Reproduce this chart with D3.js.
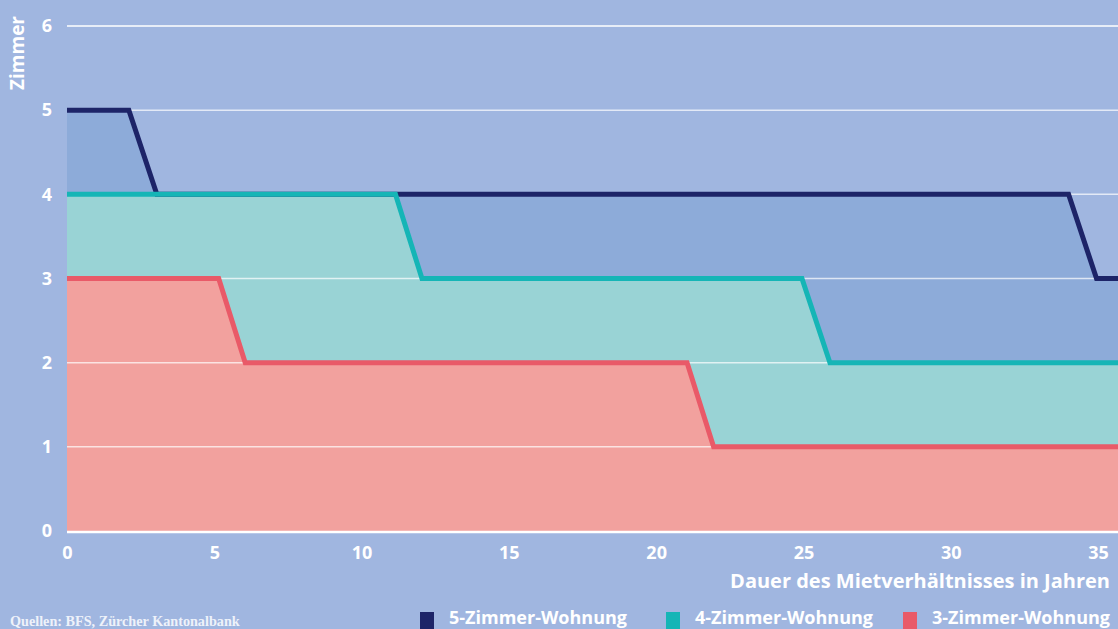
<!DOCTYPE html>
<html>
<head>
<meta charset="utf-8">
<script src="https://cdn.jsdelivr.net/npm/d3@7"></script>
<style>
  body { margin: 0; background: #a0b6e0; }
  svg { display: block; }
</style>
</head>
<body>
<svg id="chart" width="1118" height="629"></svg>
<script>
// Data: years of tenancy vs. rooms occupied
const years5 = [0, 2.1, 3.05, 34, 34.95, 35.7];
const rooms5 = [5, 5, 4, 4, 3, 3];
const years4 = [0, 11.15, 12.05, 24.95, 25.9, 35.7];
const rooms4 = [4, 4, 3, 3, 2, 2];
const years3 = [0, 5.15, 6.05, 21.05, 21.95, 35.7];
const rooms3 = [3, 3, 2, 2, 1, 1];

const seriesNames = ["5-Zimmer-Wohnung", "4-Zimmer-Wohnung", "3-Zimmer-Wohnung"];
const xTicks = [0, 5, 10, 15, 20, 25, 30, 35];
const yTicks = [0, 1, 2, 3, 4, 5, 6];

const lineColors = ["#1d2468", "#15b5b6", "#e95a68"];
const fillColors = ["#8dabd9", "#99d3d5", "#f2a19e"];

const sans = "Open Sans, sans-serif";
const svg = d3.select("#chart");
const width = 1118, height = 629;

let x = d3.scaleLinear().domain([0, 35]).range([67, 1098]);
let y = d3.scaleLinear().domain([0, 6]).range([531, 26]);

let series = [
    d3.zip(years5, rooms5),
    d3.zip(years4, rooms4),
    d3.zip(years3, rooms3)
];

svg.append("defs").append("clipPath").attr("id", "plotclip")
    .append("rect").attr("x", 67).attr("y", 0).attr("width", width - 67).attr("height", 532);

let area = d3.area()
    .x(d => x(d[0]))
    .y0(y(0))
    .y1(d => y(d[1]));
let line = d3.line()
    .x(d => x(d[0]))
    .y(d => y(d[1]));

let plot = svg.append("g").attr("clip-path", "url(#plotclip)");

// areas, biggest flat first so the smaller ones sit on top
plot.selectAll("path.area")
    .data(series)
    .enter()
    .append("path")
    .attr("class", "area")
    .attr("d", area)
    .attr("fill", (d, i) => fillColors[i]);

// grid lines over the areas
plot.selectAll("line.grid")
    .data(yTicks.filter(t => t > 0))
    .enter()
    .append("line")
    .attr("x1", 67)
    .attr("x2", width)
    .attr("y1", d => y(d))
    .attr("y2", d => y(d))
    .attr("stroke", "#ffffff")
    .attr("stroke-opacity", d => d == 6 ? 1 : 0.7)
    .attr("stroke-width", 1.5);

plot.selectAll("path.line")
    .data(series)
    .enter()
    .append("path")
    .attr("class", "line")
    .attr("d", line)
    .attr("fill", "none")
    .attr("stroke", (d, i) => lineColors[i])
    .attr("stroke-width", 5)
    .attr("stroke-linejoin", "miter");

// base line
svg.append("line")
    .attr("x1", 67).attr("x2", width)
    .attr("y1", y(0) + 1).attr("y2", y(0) + 1)
    .attr("stroke", "#ffffff").attr("stroke-width", 2.5);

// axes (labels only)
let xAxis = svg.append("g")
    .attr("transform", "translate(0," + (y(0) + 11) + ")")
    .call(d3.axisBottom(x).tickValues(xTicks).tickSize(0).tickPadding(0));
xAxis.select(".domain").remove();
xAxis.selectAll("text")
    .attr("fill", "#ffffff")
    .attr("font-size", 18)
    .attr("font-weight", "bold")
    .attr("dy", "0.95em")
    .attr("font-family", sans);

let yAxis = svg.append("g")
    .attr("transform", "translate(52,0)")
    .call(d3.axisLeft(y).tickValues(yTicks).tickFormat(d3.format("d")).tickSize(0).tickPadding(0));
yAxis.select(".domain").remove();
yAxis.selectAll("text")
    .attr("fill", "#ffffff")
    .attr("font-size", 18)
    .attr("font-weight", "bold")
    .attr("font-family", sans);

svg.append("text")
    .attr("transform", "translate(24,53) rotate(-90)")
    .attr("text-anchor", "middle")
    .attr("fill", "#ffffff")
    .attr("font-size", 19)
    .attr("font-weight", "bold")
    .attr("font-family", sans)
    .text("Zimmer");

svg.append("text")
    .attr("x", 1110)
    .attr("y", 588)
    .attr("text-anchor", "end")
    .attr("fill", "#ffffff")
    .attr("font-size", 20)
    .attr("font-weight", "bold")
    .attr("font-family", sans)
    .text("Dauer des Mietverhältnisses in Jahren");

svg.append("text")
    .attr("x", 10)
    .attr("y", 626)
    .attr("fill", "#eef2fa")
    .attr("font-size", 14.2)
    .attr("font-weight", "bold")
    .attr("font-family", "Liberation Serif, serif")
    .text("Quellen: BFS, Zürcher Kantonalbank");

// legend
let legendX = [420, 666, 903];
let legend = svg.selectAll("g.legend")
    .data(seriesNames)
    .enter()
    .append("g")
    .attr("class", "legend")
    .attr("transform", (d, i) => "translate(" + legendX[i] + ",612)");
legend.append("rect")
    .attr("width", 14).attr("height", 17)
    .attr("fill", (d, i) => lineColors[i]);
legend.append("text")
    .attr("x", 29)
    .attr("y", 12)
    .attr("fill", "#ffffff")
    .attr("font-size", 18)
    .attr("font-weight", "bold")
    .attr("font-family", sans)
    .text(d => d);
</script>
</body>
</html>
